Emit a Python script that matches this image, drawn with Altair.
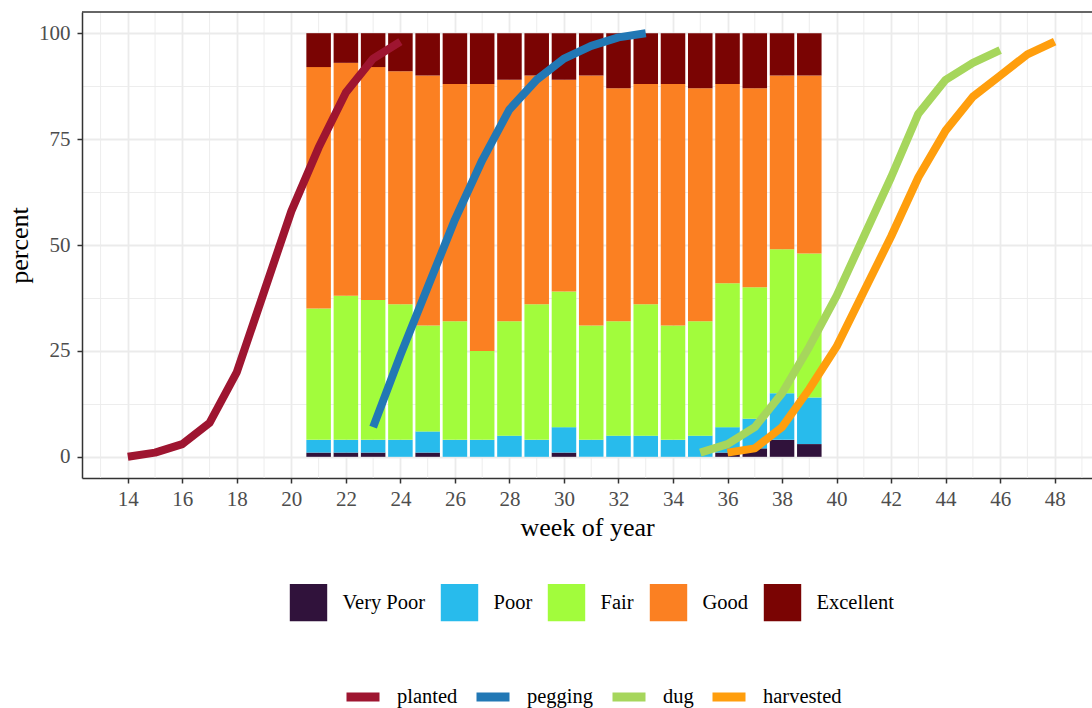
import altair as alt
import pandas as pd

# ---- data ----
bar_weeks = list(range(21, 40))
conditions = ["Very Poor", "Poor", "Fair", "Good", "Excellent"]
very_poor = [1, 1, 1, 0, 1, 0, 0, 0, 0, 1, 0, 0, 0, 0, 0, 1, 2, 4, 3]
poor = [3, 3, 3, 4, 5, 4, 4, 5, 4, 6, 4, 5, 5, 4, 5, 6, 7, 11, 11]
fair = [31, 34, 33, 32, 25, 28, 21, 27, 32, 32, 27, 27, 31, 27, 27, 34, 31, 34, 34]
good = [57, 55, 55, 55, 59, 56, 63, 57, 54, 50, 59, 55, 52, 57, 55, 47, 47, 41, 42]
excellent = [8, 7, 8, 9, 10, 12, 12, 11, 10, 11, 10, 13, 12, 12, 13, 12, 13, 10, 10]
cond_colors = ["#30123B", "#28BBEC", "#A2FC3C", "#FB8022", "#7A0403"]

stages = ["planted", "pegging", "dug", "harvested"]
planted_weeks = list(range(14, 25))
planted = [0, 1, 3, 8, 20, 39, 58, 73, 86, 94, 98]
pegging_weeks = list(range(23, 34))
pegging = [7, 24, 40, 56, 70, 82, 89, 94, 97, 99, 100]
dug_weeks = list(range(35, 47))
dug = [1, 3, 7, 15, 26, 38, 52, 66, 81, 89, 93, 96]
harvested_weeks = list(range(36, 49))
harvested = [1, 2, 7, 16, 26, 39, 52, 66, 77, 85, 90, 95, 98]
stage_colors = ["#9E1530", "#2278B5", "#A6D65C", "#FF9E0D"]

x_major = list(range(14, 50, 2))
x_minor = list(range(13, 50, 2))
y_ticks = [0, 12.5, 25, 37.5, 50, 62.5, 75, 87.5, 100]

# ---- tables ----
cond_series = [very_poor, poor, fair, good, excellent]
bar_rows = []
for ci, (name, vals) in enumerate(zip(conditions, cond_series)):
    for w, v in zip(bar_weeks, vals):
        bar_rows.append({"week": w, "condition": name, "ord": ci, "value": v})
bars_df = pd.DataFrame(bar_rows)

line_rows = []
for name, ws, vals in [("planted", planted_weeks, planted),
                       ("pegging", pegging_weeks, pegging),
                       ("dug", dug_weeks, dug),
                       ("harvested", harvested_weeks, harvested)]:
    for w, v in zip(ws, vals):
        line_rows.append({"week": w, "stage": name, "pct": v})
lines_df = pd.DataFrame(line_rows)
minor_df = pd.DataFrame({"week": x_minor})

FONT = "Liberation Serif"
W, H = 1010, 466

x_scale = alt.Scale(domain=[12.32, 49.37], nice=False, zero=False)
y_scale = alt.Scale(domain=[-5, 105], nice=False, zero=False)

x_axis = alt.Axis(
    values=x_major,
    title="week of year",
    gridWidth=1.8,
    gridColor="#EBEBEB",
    labelFlush=False,
    labelOverlap=False,
)
y_axis = alt.Axis(
    values=y_ticks,
    title="percent",
    labelExpr="datum.value % 25 === 0 ? datum.label : ''",
    tickOpacity={"condition": {"test": "datum.value % 25 === 0", "value": 1}, "value": 0},
    gridWidth={"condition": {"test": "datum.value % 25 === 0", "value": 1.8}, "value": 0.9},
    gridColor="#EBEBEB",
    labelOverlap=False,
)

minor_grid = alt.Chart(minor_df).mark_rule(color="#EBEBEB", strokeWidth=0.9).encode(
    x=alt.X("week:Q", scale=x_scale, axis=x_axis)
)

bars = alt.Chart(bars_df).transform_stack(
    stack="value", groupby=["week"], as_=["y0", "y1"], sort=[alt.SortField("ord")]
).transform_calculate(
    x0="datum.week - 0.45", x1="datum.week + 0.45"
).mark_rect().encode(
    x=alt.X("x0:Q", scale=x_scale, axis=x_axis),
    x2="x1:Q",
    y=alt.Y("y0:Q", scale=y_scale, axis=y_axis),
    y2="y1:Q",
    fill=alt.Fill(
        "condition:N",
        scale=alt.Scale(domain=conditions, range=cond_colors),
        sort=conditions,
        legend=alt.Legend(
            orient="none", legendX=207.5, legendY=571.5, direction="horizontal",
            title=None, symbolType="square", symbolSize=1400, symbolStrokeWidth=0,
            symbolOpacity=1, labelFont=FONT, labelFontSize=20.5, labelColor="black",
            labelOffset=15, columnPadding=15, padding=0,
        ),
    ),
)

lines = alt.Chart(lines_df).mark_line(
    strokeWidth=8, strokeCap="butt", strokeJoin="round"
).encode(
    x=alt.X("week:Q", scale=x_scale, axis=x_axis),
    y=alt.Y("pct:Q", scale=y_scale, axis=y_axis),
    stroke=alt.Stroke(
        "stage:N",
        scale=alt.Scale(domain=stages, range=stage_colors),
        sort=stages,
        legend=alt.Legend(
            orient="none", legendX=260, legendY=664, direction="horizontal",
            title=None, symbolType="stroke", symbolSize=1089, symbolStrokeWidth=9,
            labelFont=FONT, labelFontSize=20.5, labelColor="black",
            labelOffset=13, columnPadding=0, padding=0,
        ),
    ),
    order=alt.Order("week:Q"),
)

top_border = alt.Chart(pd.DataFrame({"a": [0]})).mark_rule(
    color="#333333", strokeWidth=1.5
).encode(x=alt.value(0), x2=alt.value(W), y=alt.value(0))

chart = alt.layer(minor_grid, bars, lines, top_border).properties(
    width=W, height=H,
    padding={"left": 82, "top": 12, "right": 0, "bottom": 230},
    autosize=alt.AutoSizeParams(type="none"),
    background="white",
).configure_view(
    stroke=None
).configure_axis(
    labelFont=FONT, labelFontSize=21, labelColor="#4D4D4D",
    titleFont=FONT, titleFontSize=26, titleFontWeight="normal", titleColor="black",
    domainColor="#333333", domainWidth=1.5,
    tickColor="#333333", tickWidth=1.5, tickSize=5,
).configure_axisX(
    labelPadding=5, titlePadding=5
).configure_axisY(
    labelPadding=7, titlePadding=6
)

chart.save("out.html", embed_options={"renderer": "svg", "actions": False})
